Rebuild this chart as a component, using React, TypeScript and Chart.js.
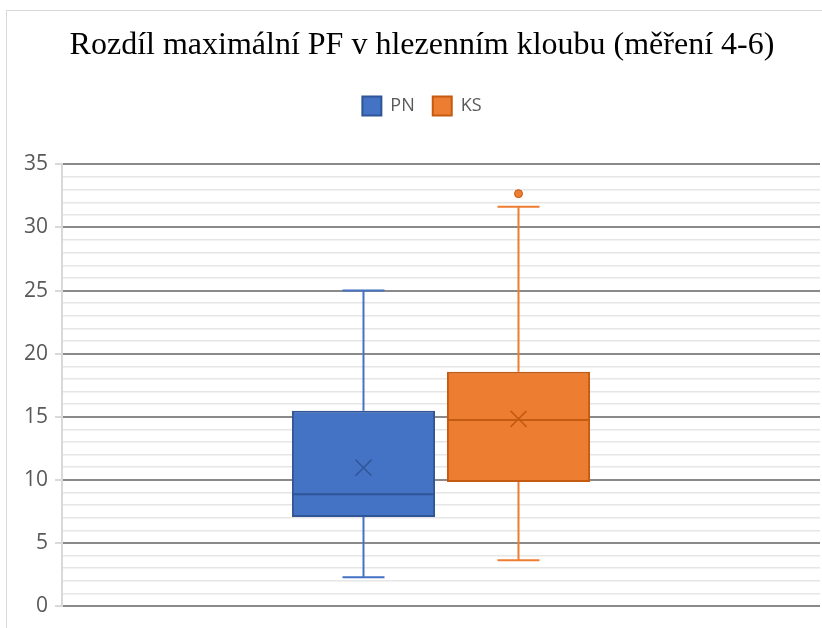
import React, { useEffect, useRef } from "react";
import { Chart, registerables } from "chart.js";

Chart.register(...registerables);

const titleText = "Rozdíl maximální PF v hlezenním kloubu (měření 4-6)";
const categories = ["PN", "KS"];
const minValues = [2.27, 3.63];
const q1Values = [7.05, 9.82];
const medianValues = [8.85, 14.75];
const q3Values = [15.48, 18.56];
const maxValues = [25.0, 31.65];
const meanValues = [10.96, 14.83];
const outlierValues: number[][] = [[], [32.68]];
const yMin = 0;
const yMax = 35;
const yMajorStep = 5;

const fillColors = ["#4472C4", "#ED7D31"];
const edgeColors = ["#2F5597", "#C55A11"];

const legendSpacePlugin = {
  id: "legendSpacePlugin",
  afterInit(chart: any) {
    const legend = chart.legend;
    if (!legend || legend.__patched) return;
    const orig = legend.fit;
    legend.fit = function () {
      orig.call(this);
      this.height += 39;
    };
    legend.__patched = true;
  },
};

const boxPlotPlugin = {
  id: "boxPlotPlugin",
  beforeDraw(chart: any) {
    const ctx = chart.ctx;
    ctx.save();
    ctx.fillStyle = "#ffffff";
    ctx.fillRect(0, 0, chart.width, chart.height);
    ctx.strokeStyle = "#d9d9d9";
    ctx.lineWidth = 1;
    ctx.strokeRect(6.5, 10.5, chart.width + 20, chart.height + 20);
    ctx.restore();
  },
  afterDatasetsDraw(chart: any) {
    const ctx = chart.ctx;
    const y = chart.scales.y;
    chart.data.datasets.forEach((ds: any, i: number) => {
      const meta = chart.getDatasetMeta(i);
      if (!meta || meta.hidden || !meta.data[0]) return;
      const bar = meta.data[0];
      const x = bar.x;
      const w = bar.width;
      const capHalf = 21;
      ctx.save();
      ctx.strokeStyle = fillColors[i];
      ctx.lineWidth = 2;
      ctx.beginPath();
      ctx.moveTo(x, y.getPixelForValue(q3Values[i]));
      ctx.lineTo(x, y.getPixelForValue(maxValues[i]));
      ctx.moveTo(x, y.getPixelForValue(q1Values[i]));
      ctx.lineTo(x, y.getPixelForValue(minValues[i]));
      ctx.moveTo(x - capHalf, y.getPixelForValue(maxValues[i]));
      ctx.lineTo(x + capHalf, y.getPixelForValue(maxValues[i]));
      ctx.moveTo(x - capHalf, y.getPixelForValue(minValues[i]));
      ctx.lineTo(x + capHalf, y.getPixelForValue(minValues[i]));
      ctx.stroke();
      ctx.strokeStyle = edgeColors[i];
      ctx.lineWidth = 2;
      const my = y.getPixelForValue(medianValues[i]);
      ctx.beginPath();
      ctx.moveTo(x - w / 2, my);
      ctx.lineTo(x + w / 2, my);
      ctx.stroke();
      const ay = y.getPixelForValue(meanValues[i]);
      const s = 8;
      ctx.lineWidth = 1.5;
      ctx.beginPath();
      ctx.moveTo(x - s, ay - s);
      ctx.lineTo(x + s, ay + s);
      ctx.moveTo(x + s, ay - s);
      ctx.lineTo(x - s, ay + s);
      ctx.stroke();
      ctx.fillStyle = fillColors[i];
      ctx.strokeStyle = edgeColors[i];
      ctx.lineWidth = 1;
      outlierValues[i].forEach((v) => {
        ctx.beginPath();
        ctx.arc(x, y.getPixelForValue(v), 4, 0, Math.PI * 2);
        ctx.fill();
        ctx.stroke();
      });
      ctx.restore();
    });
  },
};

export default function App() {
  const ref = useRef<HTMLCanvasElement | null>(null);
  useEffect(() => {
    if (!ref.current) return;
    const chart = new Chart(ref.current, {
      type: "bar",
      data: {
        labels: [""],
        datasets: categories.map((name, i) => ({
          label: name,
          data: [[q1Values[i], q3Values[i]]],
          backgroundColor: fillColors[i],
          borderColor: edgeColors[i],
          borderWidth: 2,
          borderSkipped: false,
          categoryPercentage: 0.409,
          barPercentage: 0.923,
        })) as any,
      },
      options: {
        responsive: false,
        animation: false,
        events: [],
        layout: { padding: { left: 24, right: 2, top: 0, bottom: 22 } },
        plugins: {
          tooltip: { enabled: false },
          title: {
            display: true,
            text: titleText,
            color: "#000000",
            font: { family: "'Liberation Serif', 'Times New Roman', serif", size: 32, weight: "normal" },
            padding: { top: 26, bottom: 14 },
          },
          legend: {
            display: true,
            position: "top",
            labels: {
              color: "#595959",
              font: { family: "'Open Sans', sans-serif", size: 18 },
              boxWidth: 19,
              boxHeight: 19,
              padding: 18,
            },
          },
        },
        scales: {
          x: { display: false },
          y: {
            min: yMin,
            max: yMax,
            afterFit(scale: any) {
              scale.width = 38;
            },
            border: { display: true, color: "#d9d9d9", width: 2 },
            grid: {
              color: (c: any) => (c.tick && c.tick.value % yMajorStep === 0 ? "#8a8a8a" : "#e6e6e6"),
              lineWidth: (c: any) => (c.tick && c.tick.value % yMajorStep === 0 ? 2 : 1.5),
              tickColor: (c: any) => (c.tick && c.tick.value % yMajorStep === 0 ? "#d9d9d9" : "rgba(0,0,0,0)"),
              tickLength: 7,
              drawTicks: true,
            },
            ticks: {
              stepSize: 1,
              autoSkip: false,
              padding: 7,
              color: "#595959",
              font: { family: "'Open Sans', sans-serif", size: 21 },
              callback: (v: any) => (Number(v) % yMajorStep === 0 ? String(v) : ""),
            },
          },
        },
      },
      plugins: [legendSpacePlugin, boxPlotPlugin],
    });
    return () => chart.destroy();
  }, []);
  return (
    <div style={{ position: "absolute", left: 0, top: 0, width: 822, height: 628 }}>
      <canvas ref={ref} width={822} height={628} style={{ display: "block" }} />
    </div>
  );
}
